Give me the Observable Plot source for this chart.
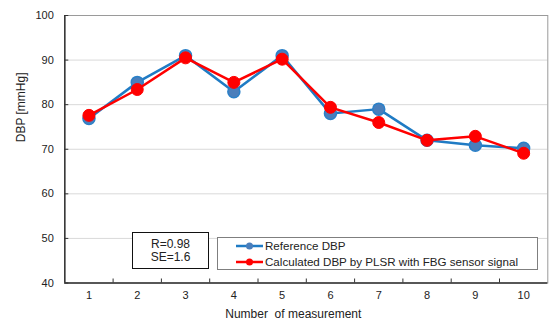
<!DOCTYPE html>
<html><head><meta charset="utf-8">
<script src="https://cdn.jsdelivr.net/npm/d3@7"></script>
<script src="https://cdn.jsdelivr.net/npm/@observablehq/plot@0.6"></script>
<style>
body{margin:0;background:#fff;font-family:"Liberation Sans",Arial,sans-serif;color:#222;}
#wrap{position:relative;width:549px;height:324px;overflow:hidden;}
#stats{position:absolute;left:132px;top:232px;width:75px;height:35px;border:1.5px solid #111;background:#fff;
 display:flex;flex-direction:column;justify-content:center;align-items:center;font-size:12px;line-height:12.5px;}
#legend{position:absolute;left:217px;top:237px;width:319px;height:31px;border:1px solid #7f7f7f;background:#fff;
 display:flex;flex-direction:column;justify-content:center;font-size:11.6px;line-height:16px;}
.row{display:flex;align-items:center;padding-left:18px;white-space:nowrap;}
.row svg{margin-right:2px;}
</style></head><body><div id="wrap"></div>
<script>
const measurement = [1, 2, 3, 4, 5, 6, 7, 8, 9, 10];
const referenceDBP = [76.9, 85, 91, 82.9, 91, 78, 79, 72, 70.9, 70.2];
const calculatedDBP = [77.6, 83.4, 90.5, 85, 90.2, 79.4, 76, 72, 72.9, 69.1];
const yTicks = [40, 50, 60, 70, 80, 90, 100];
const seriesNames = ["Reference DBP", "Calculated DBP by PLSR with FBG sensor signal"];
const seriesColors = ["#1f7bc4", "#ff0000"];
const statsLines = ["R=0.98", "SE=1.6"];
const xLabel = "Number\u00a0 of measurement";
const yLabel = "DBP [mmHg]";

const W = 549, H = 324, mT = 15, mB = 41.5, mL = 64.3, mR = 1.7;
const ref = measurement.map((m, i) => ({m, v: referenceDBP[i]}));
const calc = measurement.map((m, i) => ({m, v: calculatedDBP[i]}));
const bounds = measurement.slice(0, -1).map(m => m + 0.5);

const chart = Plot.plot({
  width: W, height: H, marginTop: mT, marginBottom: mB, marginLeft: mL, marginRight: mR,
  style: {fontFamily: "Liberation Sans, Arial, sans-serif", fontSize: "11px", color: "#222", background: "#fff"},
  x: {domain: [0.5, 10.5]},
  y: {domain: [40, 100]},
  marks: [
    Plot.gridY(yTicks, {stroke: "#d9d9d9", strokeOpacity: 1}),
    Plot.frame({stroke: "#9a9a9a"}),
    Plot.axisY(yTicks, {tickSize: 0, tickPadding: 11, label: null}),
    Plot.tickY(yTicks, {insetRight: W - mL - mR - 4, stroke: "#333"}),
    Plot.axisX(measurement, {tickSize: 0, tickPadding: 8, label: null}),
    Plot.tickX(bounds, {insetTop: H - mT - mB - 4, stroke: "#333"}),
    Plot.ruleX([0.5], {stroke: "#333", strokeWidth: 1.5}),
    Plot.ruleY([40], {stroke: "#333", strokeWidth: 1.5}),
    Plot.line(ref, {x: "m", y: "v", stroke: seriesColors[0], strokeWidth: 2.5}),
    Plot.dot(ref, {x: "m", y: "v", r: 6, fill: "#4a7ebb", stroke: "#2a80c8", strokeWidth: 1.5}),
    Plot.line(calc, {x: "m", y: "v", stroke: seriesColors[1], strokeWidth: 2.5}),
    Plot.dot(calc, {x: "m", y: "v", r: 6, fill: seriesColors[1], stroke: seriesColors[1], strokeWidth: 1}),
    Plot.text([xLabel], {frameAnchor: "bottom", dy: 35, dx: -13, fontSize: 12, fill: "#222"}),
    Plot.text([yLabel], {frameAnchor: "left", dx: -43.6, dy: -7, rotate: -90, fontSize: 12, fill: "#222"})
  ]
});
const wrap = document.getElementById("wrap");
wrap.appendChild(chart);

const stats = document.createElement("div");
stats.id = "stats";
statsLines.forEach(t => { const d = document.createElement("div"); d.textContent = t; stats.appendChild(d); });
wrap.appendChild(stats);

const legend = document.createElement("div");
legend.id = "legend";
seriesNames.forEach((name, i) => {
  const row = document.createElement("div");
  row.className = "row";
  row.innerHTML = `<svg width="27" height="8"><line x1="0" x2="27" y1="4" y2="4" stroke="${seriesColors[i]}" stroke-width="2.5"/><circle cx="13.5" cy="4" r="3.5" fill="${i === 0 ? '#4a7ebb' : seriesColors[i]}"/></svg>`;
  const s = document.createElement("span");
  s.textContent = name;
  row.appendChild(s);
  legend.appendChild(row);
});
wrap.appendChild(legend);
</script></body></html>
